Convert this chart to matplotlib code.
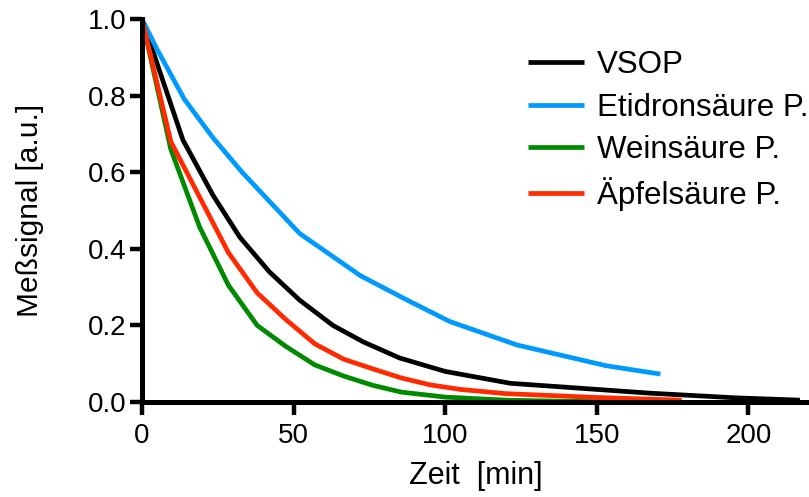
import matplotlib.pyplot as plt

plt.rcParams['font.family'] = ['Liberation Sans', 'DejaVu Sans']

# VSOP (black)
t_vsop = [0, 13.5, 23.4, 32.3, 42, 52, 63, 73, 85, 100, 121.5, 168, 196, 217]
y_vsop = [1.0, 0.684, 0.54, 0.43, 0.34, 0.266, 0.20, 0.157, 0.115, 0.08, 0.049, 0.023, 0.011, 0.005]

# Etidronsaeure (blue)
t_etid = [0, 5, 14, 23.4, 33, 52, 72, 87.5, 101.6, 123.7, 153, 171]
y_etid = [1.0, 0.92, 0.79, 0.69, 0.60, 0.44, 0.33, 0.266, 0.21, 0.149, 0.095, 0.073]

# Weinsaeure (green)
t_wein = [0, 9.5, 19, 28.5, 38, 47.5, 57, 66.5, 76, 85.5, 100, 120, 140, 174]
y_wein = [1.0, 0.66, 0.457, 0.305, 0.20, 0.145, 0.097, 0.068, 0.044, 0.026, 0.013, 0.005, 0.002, 0.0]

# Aepfelsaeure (red)
t_apf = [0, 9.5, 19, 28.5, 38, 47.5, 57, 66.5, 76, 85.5, 95, 105, 120, 150, 178]
y_apf = [1.0, 0.68, 0.535, 0.39, 0.285, 0.215, 0.152, 0.112, 0.087, 0.063, 0.045, 0.033, 0.022, 0.012, 0.005]

fig = plt.figure(figsize=(8.09, 4.97), dpi=100)
ax = fig.add_axes([0.1755, 0.191, 0.8245, 0.771])

lw = 3.4
ax.plot(t_vsop, y_vsop, color='black', lw=lw, label='VSOP', solid_capstyle='butt')
ax.plot(t_etid, y_etid, color='#0099ff', lw=lw, label='Etidronsäure P.', solid_capstyle='butt')
ax.plot(t_wein, y_wein, color='#008a00', lw=lw, label='Weinsäure P.', solid_capstyle='butt')
ax.plot(t_apf, y_apf, color='#ff2a00', lw=lw, label='Äpfelsäure P.', solid_capstyle='butt')

ax.set_xlim(0, 220)
ax.set_ylim(0, 1.0)
ax.set_xticks([0, 50, 100, 150, 200])
ax.set_yticks([0.0, 0.2, 0.4, 0.6, 0.8, 1.0])
ax.set_yticklabels(['0.0', '0.2', '0.4', '0.6', '0.8', '1.0'])

for s in ['top', 'right']:
    ax.spines[s].set_visible(False)
for s in ['left', 'bottom']:
    ax.spines[s].set_linewidth(3.6)
ax.tick_params(direction='out', length=9, width=3.2, labelsize=20)
ax.tick_params(axis='x', pad=6)
ax.tick_params(axis='y', pad=2)

ax.set_xlabel('Zeit  [min]', fontsize=22, labelpad=9)
ax.set_ylabel('Meßsignal [a.u.]', fontsize=21.5, labelpad=32)

ax.legend(frameon=False, fontsize=22.5, loc='upper left',
          bbox_to_anchor=(528 / 809, (497 - 50) / 497), bbox_transform=fig.transFigure,
          handlelength=1.8, handletextpad=0.4, labelspacing=0.4,
          borderpad=0, borderaxespad=0)

fig.savefig('out.png', dpi=100)
